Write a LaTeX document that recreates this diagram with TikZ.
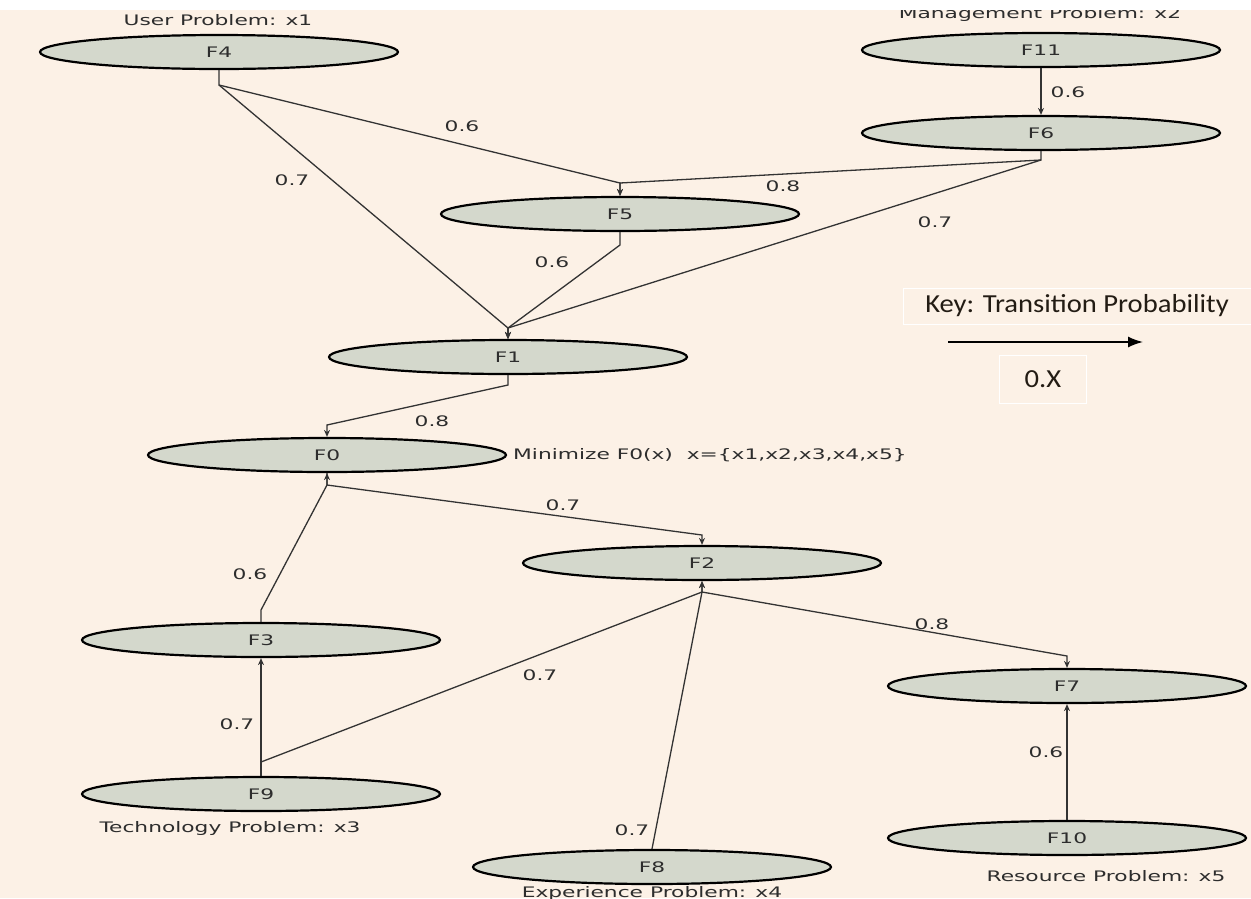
\documentclass[tikz,border=0pt]{standalone}
\usepackage{fontspec}
\newfontfamily\diagfont[FakeStretch=1.5]{DejaVu Sans}
\newfontfamily\keyfont[FakeStretch=1.1]{Carlito}
\usetikzlibrary{arrows.meta,calc,shapes.geometric}
\definecolor{bg}{RGB}{252,241,230}
\definecolor{nodefill}{RGB}{212,216,204}
\definecolor{txt}{RGB}{45,45,45}
\definecolor{keytxt}{RGB}{35,28,20}
\begin{document}
\begin{tikzpicture}[x=1pt,y=-1pt,
  fnode/.style={ellipse,draw=black,line width=2.2pt,fill=nodefill,minimum width=358pt,minimum height=34pt,inner sep=0pt,font=\diagfont\fontsize{14.5}{14.5}\selectfont,text=txt},
  edge/.style={draw=black!80,line width=1.3pt,-{Stealth[length=7pt,width=6pt]}},
  lbl/.style={font=\diagfont\fontsize{14.5}{14.5}\selectfont,text=txt,inner sep=0pt},
  keybox/.style={draw=white,line width=1pt,font=\keyfont\fontsize{26}{26}\selectfont,text=keytxt,inner sep=0pt}
]
\useasboundingbox (0,0) rectangle (1251,898);
\clip (0,0) rectangle (1251,898);
\fill[bg] (0,0) rectangle (1251,898);

% nodes
\node[fnode] (F4)  at (219,52)  {F4};
\node[fnode] (F11) at (1041,50) {F11};
\node[fnode] (F6)  at (1041,133) {F6};
\node[fnode] (F5)  at (620,214) {F5};
\node[fnode] (F1)  at (508,357) {F1};
\node[fnode] (F0)  at (327,455) {F0};
\node[fnode] (F2)  at (702,563) {F2};
\node[fnode] (F3)  at (261,640) {F3};
\node[fnode] (F9)  at (261,794) {F9};
\node[fnode] (F8)  at (652,867) {F8};
\node[fnode] (F7)  at (1067,686) {F7};
\node[fnode] (F10) at (1067,838) {F10};

% captions
\node[lbl] (cap1) at (218,20) {User Problem: x1};
\node[lbl] (cap2) at (1040,14) {Management Problem: x2};
\node[lbl] (cap3) at (230,828) {Technology Problem: x3};
\node[lbl] (cap4) at (652,893) {Experience Problem: x4};
\node[lbl] (cap5) at (1106,876) {Resource Problem: x5};
\node[lbl,anchor=west] (obj) at (513,455) {Minimize F0(x)\ \ x=\{x1,x2,x3,x4,x5\}};

% bend points
\coordinate (b4) at (219,85);
\coordinate (b5top) at (620,183);
\coordinate (b6) at (1041,160);
\coordinate (b1top) at (508,328);
\coordinate (b5bot) at (620,245);
\coordinate (b1bot) at (508,385);
\coordinate (b0top) at (327,425);
\coordinate (b0bot) at (327,485);
\coordinate (b2top) at (702,535);
\coordinate (b3top) at (261,610);
\coordinate (b9) at (261,762);
\coordinate (b2bot) at (702,592);
\coordinate (b7top) at (1067,656);

% edges
\draw[edge] (F4.south) -- (b4) -- (b5top) -- (F5.north);
\draw[edge] (b4) -- (b1top) -- (F1.north);
\draw[edge] (F11.south) -- (F6.north);
\draw[edge] (F6.south) -- (b6) -- (b5top) -- (F5.north);
\draw[edge] (b6) -- (b1top) -- (F1.north);
\draw[edge] (F5.south) -- (b5bot) -- (b1top) -- (F1.north);
\draw[edge] (F1.south) -- (b1bot) -- (b0top) -- (F0.north);
\draw[edge] (F0.south) -- (b0bot) -- (b2top) -- (F2.north);
\draw[edge] (F3.north) -- (b3top) -- (b0bot) -- (F0.south);
\draw[edge] (F9.north) -- (F3.south);
\draw[edge] (b9) -- (b2bot) -- (F2.south);
\draw[edge] (F8.north) -- (b2bot) -- (F2.south);
\draw[edge] (b2bot) -- (b7top) -- (F7.north);
\draw[edge] (F10.north) -- (F7.south);

% edge labels
\node[lbl] (l1) at (462,126) {0.6};
\node[lbl] (l2) at (292,180) {0.7};
\node[lbl] (l3) at (1068,92) {0.6};
\node[lbl] (l4) at (783,186) {0.8};
\node[lbl] (l5) at (935,222) {0.7};
\node[lbl] (l6) at (552,262) {0.6};
\node[lbl] (l7) at (432,421) {0.8};
\node[lbl] (l8) at (563,505) {0.7};
\node[lbl] (l9) at (250,574) {0.6};
\node[lbl] (l10) at (237,724) {0.7};
\node[lbl] (l11) at (540,675) {0.7};
\node[lbl] (l12) at (632,830) {0.7};
\node[lbl] (l13) at (932,624) {0.8};
\node[lbl] (l14) at (1046,752) {0.6};

% key
\node[keybox,minimum width=348pt,minimum height=36pt] (key) at (1077,306) {Key: Transition Probability};
\coordinate (ka) at (948,342);
\coordinate (kb) at (1143,342);
\draw[line width=1.6pt,-{Latex[length=15pt,width=11pt]}] (ka) -- (kb);
\node[keybox,minimum width=87pt,minimum height=48pt] (kx) at (1043,379) {0.X};

% white band at top
\fill[white] (0,0) rectangle (1251,10);
\end{tikzpicture}
\end{document}
